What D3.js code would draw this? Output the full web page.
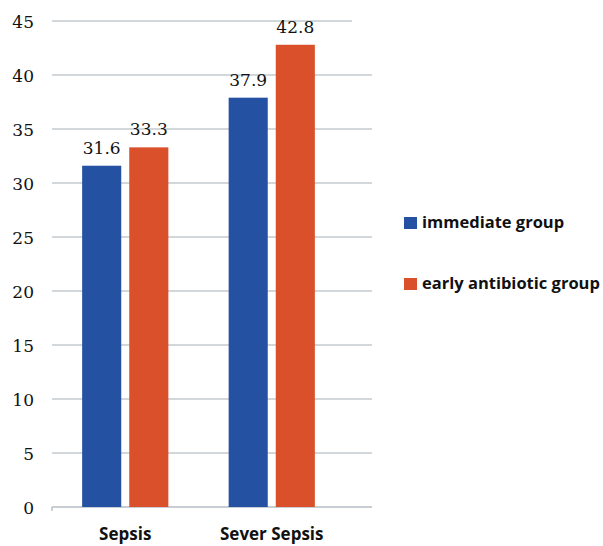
<!DOCTYPE html>
<html>
<head>
<meta charset="utf-8">
<script src="https://cdn.jsdelivr.net/npm/d3@7"></script>
<style>
  html, body { margin: 0; padding: 0; background: #fff; }
  svg { display: block; }
</style>
</head>
<body>
<svg id="chart" width="603" height="546"></svg>
<script>
// Mortality (%) by sepsis severity for two treatment groups
const categories = ["Sepsis", "Sever Sepsis"];
const seriesNames = ["immediate group", "early antibiotic group"];
const immediateValues = [31.6, 37.9];
const earlyAntibioticValues = [33.3, 42.8];
const yTicks = [0, 5, 10, 15, 20, 25, 30, 35, 40, 45];
const seriesColors = ["#2551A3", "#D9502A"];

const numberFont = "'DejaVu Serif', 'Liberation Serif', serif";
const labelFont = "'Open Sans', 'Noto Sans', sans-serif";

const rows = categories.map((c, i) => ({
  category: c,
  values: [
    { series: seriesNames[0], value: immediateValues[i] },
    { series: seriesNames[1], value: earlyAntibioticValues[i] }
  ]
}));

const svg = d3.select("#chart");
const plotLeft = 52, plotRight = 372, plotTop = 21, plotBottom = 507;

const y = d3.scaleLinear().domain([0, 45]).range([plotBottom, plotTop]);
const x0 = d3.scaleBand().domain(categories).range([52, 345]).padding(0);
const x1 = d3.scaleBand().domain(seriesNames).range([0, x0.bandwidth()])
  .paddingInner(0.17).paddingOuter(0.64);
const color = d3.scaleOrdinal().domain(seriesNames).range(seriesColors);

// horizontal gridlines
svg.append("g")
  .selectAll("line")
  .data(yTicks.filter(t => t > 0))
  .join("line")
  .attr("x1", plotLeft)
  .attr("x2", d => d === 45 ? 352 : plotRight)
  .attr("y1", d => y(d))
  .attr("y2", d => y(d))
  .attr("stroke", "#c3cad1")
  .attr("stroke-width", 1.6);

// y axis labels
const yAxis = d3.axisLeft(y).tickValues(yTicks).tickSize(0).tickPadding(0)
  .tickFormat(d3.format("d"));
const yG = svg.append("g").attr("transform", "translate(34,0)").call(yAxis);
yG.select(".domain").remove();
yG.selectAll("text")
  .attr("font-family", numberFont)
  .attr("font-size", 17)
  .attr("fill", "#111")
  .attr("dy", "0.36em");

// baseline
svg.append("line")
  .attr("x1", plotLeft).attr("x2", plotRight)
  .attr("y1", y(0)).attr("y2", y(0))
  .attr("stroke", "#b4bcc4").attr("stroke-width", 1.6);
svg.append("line")
  .attr("x1", plotLeft).attr("x2", plotLeft)
  .attr("y1", y(0)).attr("y2", y(0) + 4)
  .attr("stroke", "#b4bcc4").attr("stroke-width", 1.4);

// bars
const groups = svg.append("g")
  .selectAll("g")
  .data(rows)
  .join("g")
  .attr("transform", d => `translate(${x0(d.category)},0)`);

groups.selectAll("rect")
  .data(d => d.values)
  .join("rect")
  .attr("x", d => x1(d.series))
  .attr("width", x1.bandwidth())
  .attr("y", d => y(d.value))
  .attr("height", d => y(0) - y(d.value))
  .attr("fill", d => color(d.series));

// value labels
groups.selectAll("text")
  .data(d => d.values)
  .join("text")
  .attr("x", d => x1(d.series) + x1.bandwidth() / 2)
  .attr("y", d => y(d.value) - 12)
  .attr("text-anchor", "middle")
  .attr("font-family", numberFont)
  .attr("font-size", 17)
  .attr("fill", "#111")
  .text(d => d.value.toFixed(1));

// category labels
svg.append("g")
  .selectAll("text")
  .data(categories)
  .join("text")
  .attr("x", d => x0(d) + x0.bandwidth() / 2)
  .attr("y", 540)
  .attr("text-anchor", "middle")
  .attr("font-family", labelFont)
  .attr("font-weight", 700)
  .attr("font-size", 17)
  .attr("fill", "#111")
  .text(d => d);

// legend
const legend = svg.append("g")
  .selectAll("g")
  .data(seriesNames)
  .join("g")
  .attr("transform", (d, i) => `translate(404,${217 + i * 61})`);
legend.append("rect")
  .attr("width", 13).attr("height", 12)
  .attr("fill", d => color(d));
legend.append("text")
  .attr("x", 18).attr("y", 11)
  .attr("font-family", labelFont)
  .attr("font-weight", 700)
  .attr("font-size", 16.5)
  .attr("fill", "#111")
  .text(d => d);
</script>
</body>
</html>
